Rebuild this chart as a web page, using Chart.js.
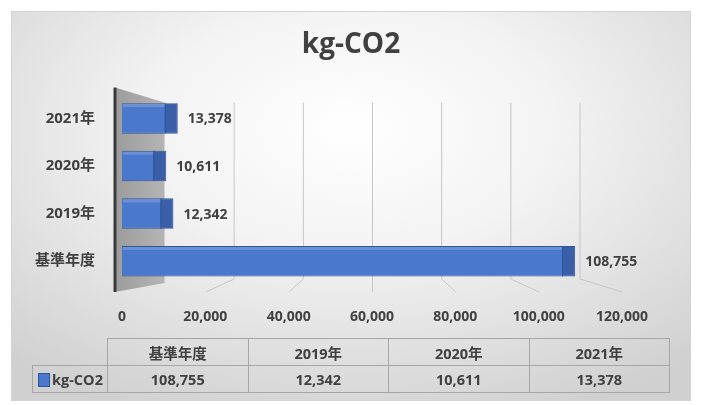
<!DOCTYPE html>
<html>
<head>
<meta charset="utf-8">
<script src="https://cdn.jsdelivr.net/npm/chart.js@4.4.1/dist/chart.umd.min.js"></script>
<style>
  body {
    margin: 0;
    width: 702px;
    height: 405px;
    background: #fff;
    position: relative;
    overflow: hidden;
    font-family: "Open Sans", "Noto Sans CJK JP", sans-serif;
  }
  #frame {
    position: absolute;
    left: 11px;
    top: 11px;
    width: 678px;
    height: 388px;
    border: 1px solid #d3d3d3;
    background: radial-gradient(ellipse 75% 80% at 50% 30%, #ffffff 0%, #f3f3f3 40%, #d0d0d0 100%);
  }
  #chart {
    position: absolute;
    left: 0;
    top: 0;
  }
  #datatable {
    position: absolute;
    left: 32px;
    top: 338px;
    width: 638px;
    border-collapse: collapse;
    table-layout: fixed;
    color: #404040;
    font-weight: 700;
    font-size: 14.5px;
  }
  #datatable td {
    border: 1px solid #a6a6a6;
    text-align: center;
    padding: 0;
    height: 26px;
  }
  #datatable td.blank {
    border-top: none;
    border-left: none;
  }
  #datatable td.legend {
    text-align: left;
    padding-left: 5px;
  }
  .swatch {
    display: inline-block;
    width: 10px;
    height: 12px;
    background: #4a78cc;
    border: 1px solid #2f5597;
    vertical-align: -2px;
    margin-right: 2px;
  }
</style>
</head>
<body>
<div id="frame"></div>
<canvas id="chart" width="702" height="405"></canvas>
<table id="datatable"></table>
<script>
// data
const categories = ["基準年度", "2019年", "2020年", "2021年"];
const seriesName = "kg-CO2";
const values = [108755, 12342, 10611, 13378];
const xMin = 0;
const xMax = 120000;
const xStep = 20000;

const font = '"Open Sans", "Noto Sans CJK JP", sans-serif';
const textColor = "#404040";
const fmt = (v) => v.toLocaleString("en-US");

// table under the chart
function buildTable() {
  const table = document.getElementById("datatable");
  let head = '<colgroup><col style="width:75px">';
  categories.forEach(() => (head += "<col>"));
  head += "</colgroup>";
  let row1 = '<tr><td class="blank"></td>';
  categories.forEach((c) => (row1 += "<td>" + c + "</td>"));
  row1 += "</tr>";
  let row2 = '<tr><td class="legend"><span class="swatch"></span>' + seriesName + "</td>";
  values.forEach((v) => (row2 += "<td>" + fmt(v) + "</td>"));
  row2 += "</tr>";
  table.innerHTML = head + row1 + row2;
}
buildTable();

// fake 3d: side wall, back gridlines, bar ends, value labels
const scenePlugin = {
  id: "scene",
  beforeDatasetsDraw(chart) {
    const { ctx, chartArea: a, scales } = chart;
    const x = scales.x;
    const vx = x.getPixelForValue((xMin + xMax) / 2);
    const back = (p) => vx + (p - vx) * 0.83;
    const x0 = x.getPixelForValue(0);
    const fx = x0 - 7;
    const bx = back(x0);

    ctx.save();
    // gridlines on the back wall
    ctx.strokeStyle = "#c6c6c6";
    ctx.lineWidth = 1;
    x.ticks.forEach((t) => {
      if (t.value === 0) return;
      const px = x.getPixelForValue(t.value);
      const bp = back(px);
      ctx.beginPath();
      ctx.moveTo(bp + 0.5, a.top + 8);
      ctx.lineTo(bp + 0.5, a.bottom - 6);
      ctx.lineTo(px + 0.5, a.bottom + 7);
      ctx.stroke();
    });

    // gray side wall
    const g = ctx.createLinearGradient(fx, 0, bx, 0);
    g.addColorStop(0, "#9c9c9c");
    g.addColorStop(1, "#b4b4b4");
    ctx.fillStyle = g;
    ctx.beginPath();
    ctx.moveTo(fx, a.top - 7);
    ctx.lineTo(bx, a.top + 8);
    ctx.lineTo(bx, a.bottom - 2);
    ctx.lineTo(fx, a.bottom + 7);
    ctx.closePath();
    ctx.fill();
    ctx.strokeStyle = "#3a3a3a";
    ctx.lineWidth = 3;
    ctx.beginPath();
    ctx.moveTo(fx, a.top - 7);
    ctx.lineTo(fx, a.bottom + 7);
    ctx.stroke();
    ctx.restore();
  },
  afterDatasetsDraw(chart) {
    const { ctx } = chart;
    const meta = chart.getDatasetMeta(0);
    ctx.save();
    meta.data.forEach((bar, i) => {
      const p = bar.getProps(["x", "y", "base", "height"], true);
      const top = p.y - p.height / 2;
      const bottom = p.y + p.height / 2;
      const d = 13;
      // darker end face
      ctx.fillStyle = "#3a5fa8";
      ctx.fillRect(p.x - d, top + 1, d - 1, p.height - 2);
      ctx.strokeStyle = "#2f5597";
      ctx.lineWidth = 1;
      ctx.beginPath();
      ctx.moveTo(p.x - d + 0.5, top);
      ctx.lineTo(p.x - d + 0.5, bottom);
      ctx.stroke();
      // light top edge
      ctx.fillStyle = "rgba(255,255,255,0.18)";
      ctx.fillRect(p.base + 1, top + 1, p.x - p.base - d - 1, 3);
      // value label
      ctx.fillStyle = textColor;
      ctx.font = "700 14px " + font;
      ctx.textAlign = "left";
      ctx.textBaseline = "middle";
      ctx.fillText(fmt(values[i]), p.x + 10, p.y + 1);
    });
    ctx.restore();
  },
};

const ctx = document.getElementById("chart").getContext("2d");
new Chart(ctx, {
  type: "bar",
  data: {
    labels: categories,
    datasets: [
      {
        label: seriesName,
        data: values,
        yAxisID: "y",
        backgroundColor: "#4a78cc",
        borderColor: "#2f5597",
        borderWidth: 1,
        barPercentage: 0.64,
        categoryPercentage: 1,
      },
    ],
  },
  options: {
    indexAxis: "y",
    responsive: false,
    animation: false,
    layout: { padding: { left: 0, right: 0, top: 0, bottom: 80 } },
    plugins: {
      legend: { display: false },
      tooltip: { enabled: false },
      title: {
        display: true,
        text: seriesName,
        color: textColor,
        font: { family: font, size: 28, weight: 700 },
        padding: { top: 28, bottom: 33 },
      },
    },
    scales: {
      x: {
        min: xMin,
        max: xMax,
        grid: { display: false },
        border: { display: false },
        ticks: {
          stepSize: xStep,
          padding: 16,
          color: textColor,
          font: { family: font, size: 14, weight: 700 },
          callback: (v) => fmt(v),
          maxRotation: 0,
        },
        afterFit(scale) {
          scale.height = 40;
          scale.paddingLeft = 0;
          scale.paddingRight = 0;
        },
      },
      y: {
        reverse: true,
        grid: { display: false },
        border: { display: false },
        ticks: {
          padding: 19,
          color: textColor,
          font: { family: font, size: 15, weight: 700 },
        },
        afterFit(scale) {
          scale.width = 122;
          scale.paddingTop = 0;
          scale.paddingBottom = 0;
        },
      },
      // empty right axis, keeps room on the right so the title stays centred
      yRight: {
        type: "category",
        position: "right",
        grid: { display: false },
        border: { display: false },
        ticks: { display: false },
        afterFit(scale) {
          scale.width = 80;
          scale.paddingTop = 0;
          scale.paddingBottom = 0;
        },
      },
    },
  },
  plugins: [scenePlugin],
});
</script>
</body>
</html>
